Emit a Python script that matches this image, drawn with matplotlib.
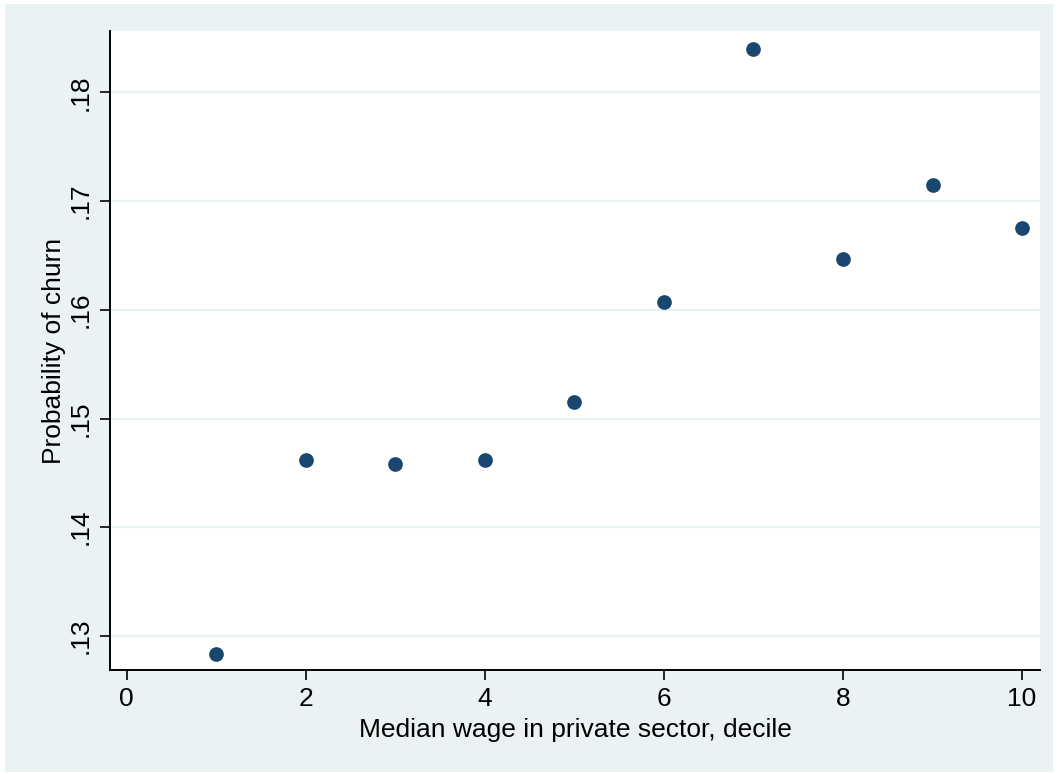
import matplotlib.pyplot as plt
from matplotlib.patches import Rectangle

plt.rcParams['font.family'] = ['Liberation Sans', 'DejaVu Sans']

# decile vs probability of churn
deciles = [1, 2, 3, 4, 5, 6, 7, 8, 9, 10]
churn = [0.1283, 0.1462, 0.1458, 0.1462, 0.1515, 0.1607, 0.1840, 0.1647, 0.1715, 0.1675]
xticks = [0, 2, 4, 6, 8, 10]
yticks = [0.13, 0.14, 0.15, 0.16, 0.17, 0.18]
ytick_labels = ['.13', '.14', '.15', '.16', '.17', '.18']

bg = '#EAF2F3'
navy = '#1A476F'

fig = plt.figure(figsize=(10.58, 7.74), dpi=100, facecolor='white')
fig.patches.append(Rectangle((5 / 1058, 2 / 774), 1048 / 1058, 768 / 774,
                             transform=fig.transFigure, facecolor=bg,
                             edgecolor='none', zorder=-5))

ax = fig.add_axes([110 / 1058, 1 - 670 / 774, 930 / 1058, 639 / 774])
ax.set_zorder(2)
ax.set_facecolor('white')

ax.scatter(deciles, churn, s=112, color=navy, zorder=3, linewidths=0)

ax.set_xlim(-0.186, 10.2)
ax.set_ylim(0.12687, 0.18564)
ax.set_xticks(xticks)
ax.set_xticklabels([str(t) for t in xticks])
ax.set_yticks(yticks)
ax.set_yticklabels(ytick_labels, rotation=90, va='center')

ax.grid(axis='y', color=bg, linewidth=1.6, zorder=1)
ax.set_axisbelow(True)

for s in ['top', 'right']:
    ax.spines[s].set_visible(False)
for s in ['left', 'bottom']:
    ax.spines[s].set_linewidth(1.4)
    ax.spines[s].set_color('black')

ax.tick_params(axis='both', direction='out', length=7.5, width=1.2,
               labelsize=19, pad=5)

ax.set_xlabel('Median wage in private sector, decile', fontsize=19, labelpad=5)
ax.set_ylabel('Probability of churn', fontsize=19, labelpad=2)

fig.savefig('out.png', dpi=100, facecolor=fig.get_facecolor())
